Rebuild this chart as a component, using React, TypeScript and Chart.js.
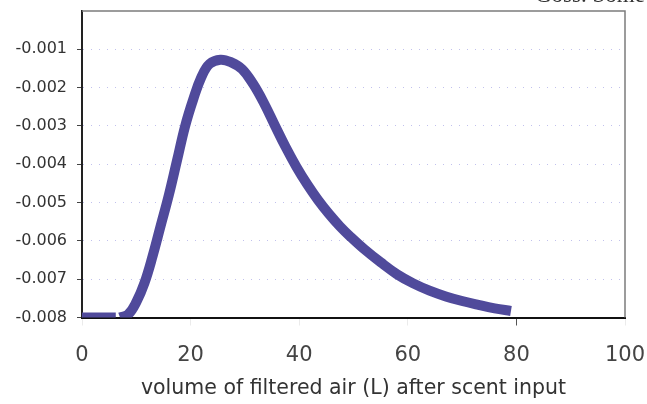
import React, { useEffect, useRef } from 'react';
import { Chart, registerables } from 'chart.js';

Chart.register(...registerables);

// Flat starting segment (before the rise)
const flatX = [0, 5.3];
const flatY = [-0.008, -0.008];

// Main response curve
const curveX = [7.0, 8.5, 10.0, 11.5, 13.0, 14.5, 16.0, 17.5, 19.0, 20.5, 22.0, 23.5, 25.5, 27.5, 29.5, 31.5, 33.5, 35.5, 37.5, 39.5, 41.5, 43.5, 45.5, 47.5, 49.5, 52, 55, 58, 61, 64, 67, 70, 73, 76, 79];
const curveY = [-0.008, -0.00792, -0.0076, -0.0071, -0.0064, -0.0056, -0.0048, -0.0039, -0.003, -0.0023, -0.00172, -0.00138, -0.00127, -0.00134, -0.00152, -0.0019, -0.0024, -0.00298, -0.00355, -0.00407, -0.00453, -0.00494, -0.0053, -0.00562, -0.0059, -0.00622, -0.00656, -0.00687, -0.00711, -0.0073, -0.00745, -0.00757, -0.00767, -0.00776, -0.00783];

const xTicks = [0, 20, 40, 60, 80, 100];
const yTicks = [-0.008, -0.007, -0.006, -0.005, -0.004, -0.003, -0.002, -0.001, 0];

const xTitle = 'volume of filtered air (L) after scent input';
const headerText = 'Goss. Some s';

const LINE_COLOR = '#504a9b';

const framePlugin = {
  id: 'frame',
  afterDraw(chart: any) {
    const { ctx, chartArea: a } = chart;
    ctx.save();
    ctx.strokeStyle = '#7c7c7c';
    ctx.lineWidth = 1.5;
    ctx.beginPath();
    ctx.moveTo(a.left, a.top);
    ctx.lineTo(a.right, a.top);
    ctx.lineTo(a.right, a.bottom);
    ctx.stroke();
    ctx.restore();
  },
};

export default function App() {
  const canvasRef = useRef<HTMLCanvasElement | null>(null);

  useEffect(() => {
    const canvas = canvasRef.current;
    if (!canvas) return;
    const chart = new Chart(canvas, {
      type: 'line',
      data: {
        datasets: [
          {
            data: flatX.map((x, i) => ({ x, y: flatY[i] })),
            borderColor: LINE_COLOR,
            borderWidth: 10,
            borderCapStyle: 'square',
            pointRadius: 0,
            tension: 0,
          },
          {
            data: curveX.map((x, i) => ({ x, y: curveY[i] })),
            borderColor: LINE_COLOR,
            borderWidth: 10,
            borderCapStyle: 'butt',
            borderJoinStyle: 'round',
            pointRadius: 0,
            tension: 0.4,
          },
        ],
      },
      options: {
        animation: false,
        responsive: false,
        maintainAspectRatio: false,
        layout: { padding: { top: 11, right: 22, left: 0, bottom: 0 } },
        plugins: {
          legend: { display: false },
          tooltip: { enabled: false },
        },
        scales: {
          x: {
            type: 'linear',
            min: 0,
            max: 100,
            afterBuildTicks: (s: any) => {
              s.ticks = xTicks.map((v) => ({ value: v }));
            },
            afterFit: (s: any) => {
              s.height = 86.5;
              s.paddingLeft = 0;
              s.paddingRight = 0;
            },
            border: { display: true, color: '#111', width: 2 },
            grid: {
              drawOnChartArea: false,
              drawTicks: true,
              tickLength: 8,
              tickColor: (c: any) => (c.tick && c.tick.value === 80 ? '#555' : 'rgba(0,0,0,0.08)'),
            },
            ticks: {
              color: '#444',
              padding: 17,
              font: { family: 'DejaVu Sans', size: 21 },
              callback: (v: any) => String(v),
              maxRotation: 0,
            },
            title: {
              display: true,
              text: xTitle,
              color: '#333',
              font: { family: 'DejaVu Sans', size: 20.5 },
              padding: { top: 0, bottom: 3 },
            },
          },
          y: {
            type: 'linear',
            min: -0.008,
            max: 0,
            afterBuildTicks: (s: any) => {
              s.ticks = yTicks.map((v) => ({ value: v }));
            },
            afterFit: (s: any) => {
              s.width = 82;
              s.paddingTop = 0;
              s.paddingBottom = 0;
            },
            border: { display: true, color: '#222', width: 2, dash: [1, 7] },
            grid: {
              drawOnChartArea: true,
              drawTicks: true,
              tickLength: 5,
              color: (c: any) =>
                c.tick && (c.tick.value === 0 || c.tick.value === -0.008) ? 'rgba(0,0,0,0)' : 'rgba(100,100,210,0.4)',
              tickColor: (c: any) => (c.tick && c.tick.value === 0 ? 'rgba(0,0,0,0)' : '#444'),
              lineWidth: 1,
            },
            ticks: {
              color: '#333',
              padding: 10,
              font: { family: 'DejaVu Sans', size: 16 },
              callback: (v: any) => (Math.abs(v) < 1e-9 ? '' : Number(v).toFixed(3)),
            },
          },
        },
      },
      plugins: [framePlugin],
    } as any);
    return () => chart.destroy();
  }, []);

  return (
    <div
      style={{
        position: 'fixed',
        left: 0,
        top: 0,
        width: 647,
        height: 404,
        overflow: 'hidden',
        background: '#fff',
      }}
    >
      <canvas ref={canvasRef} width={647} height={404} style={{ display: 'block' }} />
      <div
        style={{
          position: 'absolute',
          left: 535,
          top: -17,
          fontFamily: '"Liberation Serif", serif',
          fontSize: 23,
          lineHeight: '23px',
          color: '#333',
          whiteSpace: 'nowrap',
        }}
      >
        {headerText}
      </div>
    </div>
  );
}
